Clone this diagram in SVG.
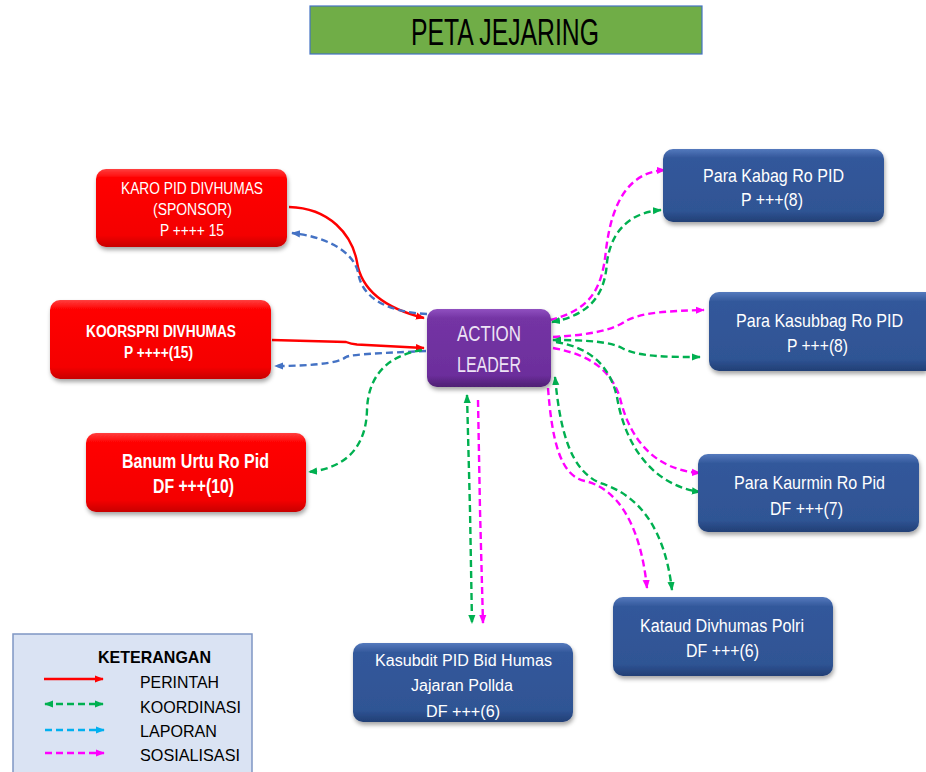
<svg xmlns="http://www.w3.org/2000/svg" width="926" height="772" viewBox="0 0 926 772">
<style>
.t{font-family:"Liberation Sans Narrow","Liberation Sans",Arial,sans-serif;}
.w{fill:#FFFFFF;}
.b{font-weight:bold;}
.c{fill:none;stroke-width:2.4;}
.dash{stroke-dasharray:7 4;}
.red{stroke:#FF0000;}
.blu{stroke:#4472C4;}
.grn{stroke:#00B050;}
.mag{stroke:#FF00FF;}
.lbl{stroke:#00B0F0;}
.lg{fill:#000000;font-size:17px;}
</style>
<defs>
<linearGradient id="gR" x1="0" y1="0" x2="0" y2="1">
<stop offset="0" stop-color="#FF4040"/><stop offset="0.12" stop-color="#FF0000"/><stop offset="0.85" stop-color="#F40000"/><stop offset="1" stop-color="#C80000"/>
</linearGradient>
<linearGradient id="gB" x1="0" y1="0" x2="0" y2="1">
<stop offset="0" stop-color="#5479BD"/><stop offset="0.12" stop-color="#33589B"/><stop offset="0.85" stop-color="#2F5494"/><stop offset="1" stop-color="#223F75"/>
</linearGradient>
<linearGradient id="gP" x1="0" y1="0" x2="0" y2="1">
<stop offset="0" stop-color="#9050C0"/><stop offset="0.12" stop-color="#7434A4"/><stop offset="0.85" stop-color="#6C2E9C"/><stop offset="1" stop-color="#4E1F72"/>
</linearGradient>
<filter id="sh" x="-10%" y="-10%" width="125%" height="140%">
<feDropShadow dx="1" dy="3" stdDeviation="2" flood-color="#000" flood-opacity="0.35"/>
</filter>
<marker id="aR" viewBox="0 0 10 10" refX="9" refY="5" markerWidth="9" markerHeight="9" markerUnits="userSpaceOnUse" orient="auto-start-reverse"><path d="M0,1 L10,5 L0,9 z" fill="#FF0000"/></marker>
<marker id="aB" viewBox="0 0 10 10" refX="9" refY="5" markerWidth="9" markerHeight="9" markerUnits="userSpaceOnUse" orient="auto-start-reverse"><path d="M0,1 L10,5 L0,9 z" fill="#4472C4"/></marker>
<marker id="aG" viewBox="0 0 10 10" refX="9" refY="5" markerWidth="9" markerHeight="9" markerUnits="userSpaceOnUse" orient="auto-start-reverse"><path d="M0,1 L10,5 L0,9 z" fill="#00B050"/></marker>
<marker id="aM" viewBox="0 0 10 10" refX="9" refY="5" markerWidth="9" markerHeight="9" markerUnits="userSpaceOnUse" orient="auto-start-reverse"><path d="M0,1 L10,5 L0,9 z" fill="#FF00FF"/></marker>
<marker id="aL" viewBox="0 0 10 10" refX="9" refY="5" markerWidth="9" markerHeight="9" markerUnits="userSpaceOnUse" orient="auto-start-reverse"><path d="M0,1 L10,5 L0,9 z" fill="#00B0F0"/></marker>
</defs>

<rect width="926" height="772" fill="#FFFFFF"/>

<g id="title">
<rect x="310" y="6" width="392" height="48" fill="#70AD47" stroke="#4472C4" stroke-width="1.2"/>
<text class="t" x="411" y="45" font-size="37" fill="#000000" textLength="188" lengthAdjust="spacingAndGlyphs">PETA JEJARING</text>
</g>

<g id="connectors">
<path class="c red" d="M289,207 C330,208 352,235 357,262 C362,295 392,310 424,318" marker-end="url(#aR)"/>
<path class="c blu dash" d="M427,314 C390,312 362,300 358,272 C352,248 320,236 292,233" marker-end="url(#aB)"/>
<path class="c red" d="M272,340 L346,342 Q351,344 357,344.5 L424,348" marker-end="url(#aR)"/>
<path class="c blu dash" d="M426,351 C385,353 352,354 346,357 C338,364 305,366 275,366" marker-end="url(#aB)"/>
<path class="c grn dash" d="M422,350 C385,356 368,378 367,410 C366,448 345,468 309,472" marker-end="url(#aG)"/>

<path class="c mag dash" d="M550,320 C590,310 602,290 606,250 C612,200 630,172 665,170" marker-end="url(#aM)"/>
<path class="c grn dash" d="M552,322 C590,315 605,295 607,262 C612,226 635,212 661,210" marker-start="url(#aG)" marker-end="url(#aG)"/>
<path class="c mag dash" d="M553,337 C590,335 612,330 624,322 C640,312 670,311 704,310" marker-end="url(#aM)"/>
<path class="c grn dash" d="M553,340 C590,340 610,342 622,348 C638,357 668,357 700,357" marker-start="url(#aG)" marker-end="url(#aG)"/>
<path class="c mag dash" d="M553,348 C592,355 612,372 620,398 C630,440 655,470 700,473" marker-end="url(#aM)"/>
<path class="c grn dash" d="M556,342 C592,348 610,367 617,397 C625,445 652,485 700,492" marker-end="url(#aG)"/>
<path class="c mag dash" d="M548,388 C552,440 560,476 585,481 C615,488 640,520 647,588" marker-end="url(#aM)"/>
<path class="c grn dash" d="M555,377 C560,430 570,470 600,483 C640,495 665,530 672,590" marker-start="url(#aG)" marker-end="url(#aG)"/>
<path class="c grn dash" d="M467,395 L470,510 L472,623" marker-start="url(#aG)" marker-end="url(#aG)"/>
<path class="c mag dash" d="M478,400 L480,510 L483,623" marker-end="url(#aM)"/>
</g>

<g id="karo">
<rect x="96" y="169" width="191" height="78" rx="10" fill="url(#gR)" filter="url(#sh)"/>
<text class="t w" x="121" y="194" font-size="16" textLength="142" lengthAdjust="spacingAndGlyphs">KARO PID DIVHUMAS</text>
<text class="t w" x="153" y="215" font-size="16" textLength="79" lengthAdjust="spacingAndGlyphs">(SPONSOR)</text>
<text class="t w" x="160" y="236" font-size="16" textLength="64" lengthAdjust="spacingAndGlyphs">P ++++ 15</text>
</g>

<g id="koorspri">
<rect x="50" y="300" width="221" height="79" rx="10" fill="url(#gR)" filter="url(#sh)"/>
<text class="t w b" x="86" y="337" font-size="16" textLength="150" lengthAdjust="spacingAndGlyphs">KOORSPRI DIVHUMAS</text>
<text class="t w b" x="124" y="358" font-size="16" textLength="69" lengthAdjust="spacingAndGlyphs">P ++++(15)</text>
</g>

<g id="banum">
<rect x="86" y="433" width="220" height="79" rx="10" fill="url(#gR)" filter="url(#sh)"/>
<text class="t w b" x="122" y="468" font-size="20" textLength="147" lengthAdjust="spacingAndGlyphs">Banum Urtu Ro Pid</text>
<text class="t w b" x="153" y="493" font-size="20" textLength="81" lengthAdjust="spacingAndGlyphs">DF +++(10)</text>
</g>

<g id="action-leader">
<rect x="427" y="309" width="124" height="78" rx="10" fill="url(#gP)" filter="url(#sh)"/>
<text class="t" x="457" y="341" font-size="22" fill="#EDE4F5" textLength="64" lengthAdjust="spacingAndGlyphs">ACTION</text>
<text class="t" x="457" y="372" font-size="22" fill="#EDE4F5" textLength="64" lengthAdjust="spacingAndGlyphs">LEADER</text>
</g>

<g id="kabag">
<rect x="663" y="149" width="221" height="73" rx="10" fill="url(#gB)" filter="url(#sh)"/>
<text class="t w" x="703" y="182" font-size="19" textLength="141" lengthAdjust="spacingAndGlyphs">Para Kabag Ro PID</text>
<text class="t w" x="741" y="206" font-size="19" textLength="62" lengthAdjust="spacingAndGlyphs">P +++(8)</text>
</g>

<g id="kasubbag">
<path d="M719,292 H926 V371 H719 A10,10 0 0 1 709,361 V302 A10,10 0 0 1 719,292 Z" fill="url(#gB)" filter="url(#sh)"/>
<text class="t w" x="736" y="327" font-size="19" textLength="167" lengthAdjust="spacingAndGlyphs">Para Kasubbag Ro PID</text>
<text class="t w" x="787" y="352" font-size="19" textLength="61" lengthAdjust="spacingAndGlyphs">P +++(8)</text>
</g>

<g id="kaurmin">
<rect x="698" y="454" width="221" height="78" rx="10" fill="url(#gB)" filter="url(#sh)"/>
<text class="t w" x="734" y="489" font-size="19" textLength="151" lengthAdjust="spacingAndGlyphs">Para Kaurmin Ro Pid</text>
<text class="t w" x="770" y="515" font-size="19" textLength="73" lengthAdjust="spacingAndGlyphs">DF +++(7)</text>
</g>

<g id="kataud">
<rect x="613" y="597" width="220" height="79" rx="10" fill="url(#gB)" filter="url(#sh)"/>
<text class="t w" x="640" y="632" font-size="18" textLength="164" lengthAdjust="spacingAndGlyphs">Kataud Divhumas Polri</text>
<text class="t w" x="686" y="657" font-size="18" textLength="73" lengthAdjust="spacingAndGlyphs">DF +++(6)</text>
</g>

<g id="kasubdit">
<rect x="353" y="643" width="220" height="79" rx="10" fill="url(#gB)" filter="url(#sh)"/>
<text class="t w" x="375" y="666" font-size="16" textLength="177" lengthAdjust="spacingAndGlyphs">Kasubdit PID Bid Humas</text>
<text class="t w" x="411" y="691" font-size="16" textLength="102" lengthAdjust="spacingAndGlyphs">Jajaran Pollda</text>
<text class="t w" x="426" y="717" font-size="16" textLength="74" lengthAdjust="spacingAndGlyphs">DF +++(6)</text>
</g>

<g id="legend">
<rect x="13" y="634" width="239" height="150" fill="#DAE3F3" stroke="#7F96C4" stroke-width="1.5"/>
<text class="t lg b" x="98" y="663" textLength="113" lengthAdjust="spacingAndGlyphs">KETERANGAN</text>
<line class="c red" x1="44" y1="679" x2="103" y2="679" stroke-width="2" marker-end="url(#aR)"/>
<text class="t lg" x="140" y="688" textLength="79" lengthAdjust="spacingAndGlyphs">PERINTAH</text>
<line class="c grn dash" x1="45" y1="704" x2="103" y2="704" stroke-width="2" marker-start="url(#aG)" marker-end="url(#aG)"/>
<text class="t lg" x="140" y="713" textLength="101" lengthAdjust="spacingAndGlyphs">KOORDINASI</text>
<line class="c lbl dash" x1="45" y1="730" x2="104" y2="730" stroke-width="2" marker-end="url(#aL)"/>
<text class="t lg" x="140" y="737" textLength="77" lengthAdjust="spacingAndGlyphs">LAPORAN</text>
<line class="c mag dash" x1="45" y1="753" x2="104" y2="753" stroke-width="2" marker-end="url(#aM)"/>
<text class="t lg" x="140" y="761" textLength="100" lengthAdjust="spacingAndGlyphs">SOSIALISASI</text>
</g>
</svg>
